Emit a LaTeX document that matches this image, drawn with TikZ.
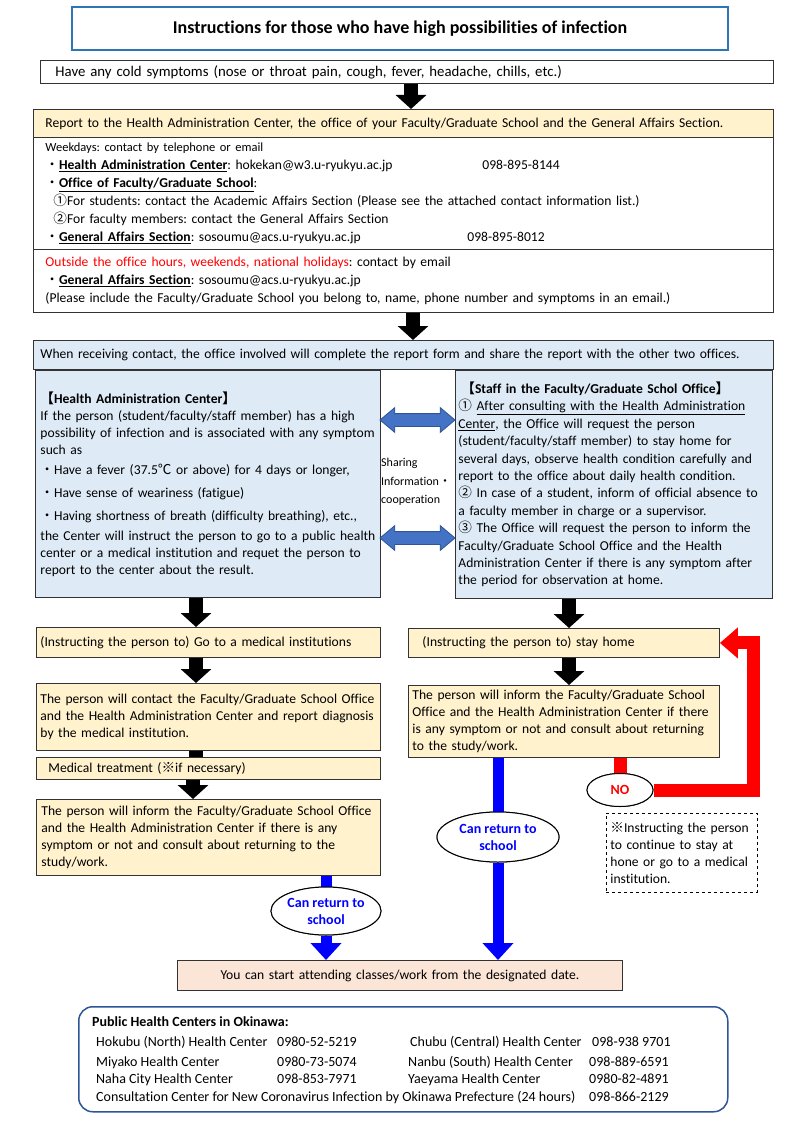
\documentclass[tikz,border=0pt]{standalone}
\usepackage{fontspec}
\setmainfont{Carlito}[Ligatures=NoCommon]
\newfontfamily\jp{Noto Sans CJK JP}
\frenchspacing
\usetikzlibrary{arrows.meta,shapes.geometric,shapes.arrows,calc}
\definecolor{tanfill}{HTML}{FFF2CC}
\definecolor{bluefill}{HTML}{DEEBF7}
\definecolor{peach}{HTML}{FBE5D6}
\definecolor{titleblue}{HTML}{2E75B6}
\definecolor{darrowfill}{HTML}{4472C4}
\definecolor{darrowedge}{HTML}{2F5597}
\definecolor{pubedge}{HTML}{2F5597}
\definecolor{pureblue}{HTML}{0000FF}
\definecolor{purered}{HTML}{FF0000}
\begin{document}
\begin{tikzpicture}[x=1pt,y=-1pt,
  box/.style={draw=black!80, line width=0.9pt, anchor=north west, inner ysep=1pt, align=left, font=\fontsize{13.6pt}{17pt}\selectfont},
  blk/.style={line width=14pt, black, -{Triangle[width=30pt,length=14pt]}},
  blkshaft/.style={line width=14pt, black},
  bluethick/.style={line width=11pt, pureblue},
  bluehead/.style={line width=11pt, pureblue, -{Triangle[width=30pt,length=17pt]}},
  redthick/.style={line width=13pt, purered, line join=miter},
  redhead/.style={line width=13pt, purered, line join=miter, -{Triangle[width=30pt,length=18pt]}},
  ell/.style={ellipse, draw=black, line width=1pt, fill=white, inner sep=0pt, align=center, font=\bfseries\fontsize{14pt}{17pt}\selectfont},
  darr/.style={double arrow, draw=darrowedge, fill=darrowfill, line width=0.8pt, inner xsep=0pt, inner ysep=6pt, minimum height=75pt, double arrow head extend=6pt, double arrow tip angle=80},
  tt/.style={anchor=base west, inner sep=0pt, font=\fontsize{14pt}{16pt}\selectfont}
]
\fill[white] (0,0) rectangle (800,1131);
\useasboundingbox (0,0) rectangle (800,1131);

% title
\node[draw=titleblue, line width=2pt, anchor=north west, minimum width=656pt, minimum height=43pt, inner sep=0pt,
  font=\bfseries\fontsize{18pt}{20pt}\selectfont] (title) at (71,6) {Instructions for those who have high possibilities of infection};

% top boxes
\node[box, minimum width=733pt, minimum height=23pt, inner xsep=15pt, text width=703pt, font=\fontsize{14.8pt}{17pt}\selectfont] (cold) at (40,60)
  {Have any cold symptoms (nose or throat pain, cough, fever, headache, chills, etc.)};

\node[box, fill=tanfill, minimum width=740pt, minimum height=28pt, inner xsep=12pt, text width=716pt] (report) at (33,109)
  {Report to the Health Administration Center, the office of your Faculty/Graduate School and the General Affairs Section.};

\node[box, minimum width=740pt, minimum height=112pt, inner xsep=12pt, text width=716pt, font=\fontsize{13.6pt}{18pt}\selectfont] (weekdays) at (33,137)
  {{\fontsize{12.5pt}{18pt}\selectfont Weekdays: contact by telephone or email}\\
   \makebox[437pt][l]{{\jp ・}\underline{\textbf{Health Administration Center}}: hokekan@w3.u-ryukyu.ac.jp}098-895-8144\\
   {\jp ・}\underline{\textbf{Office of Faculty/Graduate School}}:\\
   \hspace*{8pt}{\jp ①}For students: contact the Academic Affairs Section (Please see the attached contact information list.)\\
   \hspace*{8pt}{\jp ②}For faculty members: contact the General Affairs Section\\
   \makebox[422pt][l]{{\jp ・}\underline{\textbf{General Affairs Section}}: sosoumu@acs.u-ryukyu.ac.jp}098-895-8012};

\node[box, minimum width=740pt, minimum height=63pt, inner xsep=12pt, text width=716pt, font=\fontsize{13.6pt}{18pt}\selectfont] (outside) at (33,249)
  {{\color{purered}Outside the office hours, weekends, national holidays}: contact by email\\
   {\jp ・}\underline{\textbf{General Affairs Section}}: sosoumu@acs.u-ryukyu.ac.jp\\
   (Please include the Faculty/Graduate School you belong to, name, phone number and symptoms in an email.)};

\node[box, fill=bluefill, minimum width=740pt, minimum height=29pt, inner xsep=7pt, text width=726pt] (receiving) at (33,340)
  {When receiving contact, the office involved will complete the report form and share the report with the other two offices.};

% middle boxes
\node[box, fill=bluefill, minimum width=345pt, minimum height=227pt, inner xsep=5pt, text width=335pt] (hac) at (35,370)
  {\textbf{{\jp 【}Health Administration Center{\jp 】}}\\
   If the person (student/faculty/staff member) has a high\\
   possibility of infection and is associated with any symptom\\
   such as\\[3pt]
   {\jp ・}Have a fever (37.5{\jp ℃} or above) for 4 days or longer,\\[6pt]
   {\jp ・}Have sense of weariness (fatigue)\\[6pt]
   {\jp ・}Having shortness of breath (difficulty breathing), etc.,\\[3pt]
   the Center will instruct the person to go to a public health\\
   center or a medical institution and requet the person to\\
   report to the center about the result.};

\node[box, fill=bluefill, minimum width=317pt, minimum height=228pt, inner xsep=3pt, text width=311pt, font=\fontsize{13.6pt}{17.4pt}\selectfont] (staff) at (455,370)
  {\hspace*{3pt}\textbf{{\jp 【}Staff in the Faculty/Graduate Schol Office{\jp 】}}\\
   {\jp ①} \underline{After consulting with the Health Administration}\\
   \underline{Center}, the Office will request the person\\
   (student/faculty/staff member) to stay home for\\
   several days, observe health condition carefully and\\
   report to the office about daily health condition.\\
   {\jp ②} In case of a student, inform of official absence to\\
   a faculty member in charge or a supervisor.\\
   {\jp ③} The Office will request the person to inform the\\
   Faculty/Graduate School Office and the Health\\
   Administration Center if there is any symptom after\\
   the period for observation at home.};

\node[darr] (da1) at (417.5,420) {};
\node[darr] (da2) at (417.5,538) {};
\node[anchor=west, inner sep=0pt, align=left, font=\fontsize{12pt}{18.5pt}\selectfont] (sharing) at (381,482)
  {Sharing\\Information{\jp ・}\\cooperation};

% left column
\node[box, fill=tanfill, minimum width=344pt, minimum height=30pt, inner xsep=4pt, text width=336pt] (gomed) at (36,627)
  {(Instructing the person to) Go to a medical institutions};
\node[box, fill=tanfill, minimum width=344pt, minimum height=67pt, inner xsep=4pt, text width=336pt] (contact) at (36,683)
  {The person will contact the Faculty/Graduate School Office\\
   and the Health Administration Center and report diagnosis\\
   by the medical institution.};
\node[box, fill=tanfill, minimum width=344pt, minimum height=22pt, inner xsep=12pt, text width=320pt] (medtreat) at (36,757)
  {Medical treatment ({\jp ※}if necessary)};
\node[box, fill=tanfill, minimum width=344pt, minimum height=76pt, inner xsep=5pt, text width=334pt] (informL) at (36,799)
  {The person will inform the Faculty/Graduate School Office\\
   and the Health Administration Center if there is any\\
   symptom or not and consult about returning to the\\
   study/work.};

% right column
\node[box, fill=tanfill, minimum width=311pt, minimum height=29pt, inner xsep=14pt, text width=283pt] (stayhome) at (408,628)
  {(Instructing the person to) stay home};
\node[box, fill=tanfill, minimum width=311pt, minimum height=72pt, inner xsep=4pt, text width=303pt] (informR) at (408,685)
  {The person will inform the Faculty/Graduate School\\
   Office and the Health Administration Center if there\\
   is any symptom or not and consult about returning\\
   to the study/work.};
\node[box, dashed, draw=black, line width=0.9pt, minimum width=151pt, minimum height=79pt, inner xsep=4pt, text width=143pt] (note) at (606,813)
  {{\jp ※}Instructing the person\\
   to continue to stay at\\
   hone or go to a medical\\
   institution.};

% final box
\node[box, fill=peach, align=center, minimum width=445pt, minimum height=30pt, inner xsep=5pt, text width=435pt] (final) at (177,960)
  {You can start attending classes/work from the designated date.};

% ellipses
\node[ell, minimum width=110pt, minimum height=48pt, text=pureblue] (canL) at (326,911) {Can return to\\school};
\node[ell, minimum width=122pt, minimum height=50pt, text=pureblue] (canR) at (498,837) {Can return to\\school};
\node[ell, minimum width=66pt, minimum height=33pt, text=purered] (no) at (620,790) {NO};

% coordinates for arrow axes
\coordinate (ax1) at (411,0);
\coordinate (ax2) at (413,0);
\coordinate (axL) at (196,0);
\coordinate (axL2) at (193,0);
\coordinate (axR) at (569,0);
\coordinate (redcorner) at (753,790);

% black arrows
\draw[blk] (cold.south -| ax1) -- (report.north -| ax1);
\draw[blk] (outside.south -| ax2) -- (receiving.north -| ax2);
\draw[blk] (hac.south -| axL) -- (gomed.north -| axL);
\draw[blk] (gomed.south -| axL) -- (contact.north -| axL);
\draw[blkshaft] (contact.south -| axL) -- (medtreat.north -| axL);
\draw[blk] (medtreat.south -| axL2) -- (informL.north -| axL2);
\draw[blk] (staff.south -| axR) -- (stayhome.north -| axR);
\draw[blk] (stayhome.south -| axR) -- (informR.north -| axR);

% blue paths
\draw[bluethick] (informL.south -| canL) -- (canL.north);
\draw[bluehead] (canL.south) -- (final.north -| canL);
\draw[bluethick] (informR.south -| canR) -- (canR.north);
\draw[bluehead] (canR.south) -- (final.north -| canR);

% red path
\draw[redthick] (informR.south -| no) -- (no.north);
\draw[redhead] (no.east) -- (redcorner) |- (stayhome.east);

% redraw ellipses on top
\node[ell, minimum width=110pt, minimum height=48pt, text=pureblue] at (canL) {Can return to\\school};
\node[ell, minimum width=122pt, minimum height=50pt, text=pureblue] at (canR) {Can return to\\school};
\node[ell, minimum width=66pt, minimum height=33pt, text=purered] at (no) {NO};

% public health centers
\node[draw=pubedge, line width=1.5pt, rounded corners=14pt, anchor=north west, minimum width=649pt, minimum height=105pt] (pub) at (78,1006) {};
\node[tt, font=\bfseries\fontsize{14pt}{16pt}\selectfont] (pubtitle) at (92,1026) {Public Health Centers in Okinawa:};
\node[tt] (p1a) at (96,1046) {Hokubu (North) Health Center};
\node[tt] (p1b) at (277,1046) {0980-52-5219};
\node[tt] (p1c) at (410,1046) {Chubu (Central) Health Center};
\node[tt] (p1d) at (592,1046) {098-938 9701};
\node[tt] (p2a) at (96,1066) {Miyako Health Center};
\node[tt] (p2b) at (277,1066) {0980-73-5074};
\node[tt] (p2c) at (408,1066) {Nanbu (South) Health Center};
\node[tt] (p2d) at (589,1066) {098-889-6591};
\node[tt] (p3a) at (96,1083) {Naha City Health Center};
\node[tt] (p3b) at (277,1083) {098-853-7971};
\node[tt] (p3c) at (408,1083) {Yaeyama Health Center};
\node[tt] (p3d) at (589,1083) {0980-82-4891};
\node[tt] (p4a) at (96,1101) {Consultation Center for New Coronavirus Infection by Okinawa Prefecture (24 hours)};
\node[tt] (p4d) at (589,1101) {098-866-2129};
\end{tikzpicture}
\end{document}
